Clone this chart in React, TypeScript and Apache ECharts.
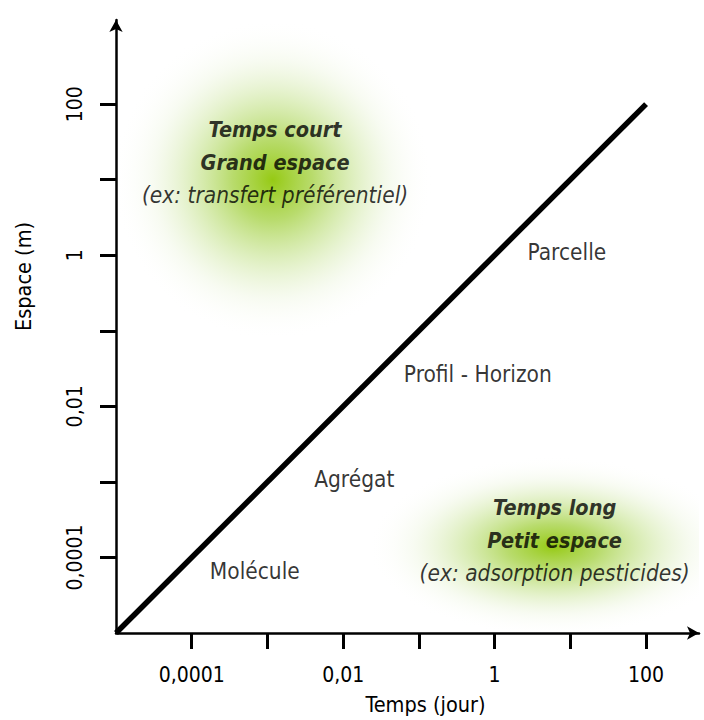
import React, { useEffect, useRef } from "react";
import * as echarts from "echarts";

// Axis ticks (real values) and their labels
const xTickValues = [1e-4, 1e-3, 1e-2, 1e-1, 1, 10, 100];
const xLabelValues = [1e-4, 1e-2, 1, 100];
const xLabelTexts = ["0,0001", "0,01", "1", "100"];
const yTickValues = [1e-4, 1e-3, 1e-2, 1e-1, 1, 10, 100];
const yLabelValues = [1e-4, 1e-2, 1, 100];
const yLabelTexts = ["0,0001", "0,01", "1", "100"];

// Axis extents (real values)
const xMin = 1e-5;
const xMax = 500;
const yMin = 1e-5;
const yMax = 1300;

// Diagonal scale line: Temps (jour) vs Espace (m)
const lineTime = [1e-5, 100];
const lineSpace = [1e-5, 100];

// Scale labels
const scaleNames = ["Molécule", "Agrégat", "Profil - Horizon", "Parcelle"];
const scaleTime = [0.00068, 0.014, 0.6, 9];
const scaleSpace = [0.000066, 0.0011, 0.027, 1.1];

// Green zones (centre of the glow) and their captions
const zoneTitles = [
  ["Temps court", "Grand espace", "(ex: transfert préférentiel)"],
  ["Temps long", "Petit espace", "(ex: adsorption pesticides)"],
];
const zoneTime = [0.00117, 5.9];
const zoneSpace = [10, 0.00014];
const captionTime = [0.00126, 6.2];
const captionSpace = [17, 0.00017];

const L = (v: number) => Math.log10(v);
const FONT = "'Liberation Sans Narrow', 'Arial Narrow', 'DejaVu Sans Condensed', 'Liberation Sans', sans-serif";

function fmt(v: number, vals: number[], texts: string[]) {
  for (let i = 0; i < vals.length; i++) {
    if (Math.abs(L(vals[i]) - v) < 1e-6) return texts[i];
  }
  return "";
}

export default function App() {
  const ref = useRef<HTMLDivElement>(null);
  useEffect(() => {
    if (!ref.current) return;
    const chart = echarts.init(ref.current, null, { renderer: "svg" });
    const zoneSizes = [
      [160, 160],
      [185, 90],
    ];
    const gradient = {
      type: "radial",
      x: 0.5,
      y: 0.5,
      r: 0.5,
      colorStops: [
        { offset: 0, color: "rgba(150,202,20,1)" },
        { offset: 0.25, color: "rgba(162,208,62,0.76)" },
        { offset: 0.5, color: "rgba(180,218,108,0.44)" },
        { offset: 0.75, color: "rgba(208,230,170,0.16)" },
        { offset: 1, color: "rgba(255,255,255,0)" },
      ],
    };
    const option: any = {
      animation: false,
      backgroundColor: "#fff",
      textStyle: { fontFamily: FONT },
      grid: { left: 116, right: 5, top: 20, bottom: 86, containLabel: false },
      xAxis: {
        type: "value",
        min: L(xMin),
        max: L(xMax),
        interval: 1,
        splitLine: { show: false },
        name: "Temps (jour)",
        nameLocation: "middle",
        nameGap: 60,
        nameTextStyle: { fontSize: 21.5, color: "#000", fontFamily: FONT, padding: [0, 0, 0, 36] },
        axisLine: {
          onZero: false,
          lineStyle: { color: "#000", width: 2.5 },
          symbol: ["none", "arrow"],
          symbolSize: [10, 12],
        },
        axisTick: {
          show: true,
          length: 16,
          inside: false,
          lineStyle: { color: "#000", width: 3 },
          customValues: xTickValues.map(L),
        },
        axisLabel: {
          customValues: xLabelValues.map(L),
          formatter: (v: number) => fmt(v, xLabelValues, xLabelTexts),
          fontSize: 21,
          color: "#000",
          fontFamily: FONT,
          margin: 31,
        },
      },
      yAxis: {
        type: "value",
        min: L(yMin),
        max: L(yMax),
        interval: 1,
        splitLine: { show: false },
        name: "Espace (m)",
        nameLocation: "middle",
        nameGap: 82,
        nameTextStyle: { fontSize: 21.5, color: "#000", fontFamily: FONT, padding: [0, 0, 0, 100] },
        axisLine: {
          onZero: false,
          lineStyle: { color: "#000", width: 2.5 },
          symbol: ["none", "arrow"],
          symbolSize: [10, 12],
        },
        axisTick: {
          show: true,
          length: 16,
          inside: false,
          lineStyle: { color: "#000", width: 3 },
          customValues: yTickValues.map(L),
        },
        axisLabel: {
          customValues: yLabelValues.map(L),
          formatter: (v: number) => fmt(v, yLabelValues, yLabelTexts),
          fontSize: 21,
          color: "#000",
          fontFamily: FONT,
          rotate: 90,
          margin: 31,
        },
      },
      series: [
        {
          type: "custom",
          name: "zones",
          silent: true,
          clip: true,
          z: 1,
          data: zoneTime.map((t, i) => [L(t), L(zoneSpace[i]), i]),
          renderItem: (params: any, api: any) => {
            const p = api.coord([api.value(0), api.value(1)]);
            const idx = api.value(2);
            const [rx, ry] = zoneSizes[idx];
            return {
              type: "circle",
              x: p[0],
              y: p[1],
              scaleX: rx / ry,
              scaleY: 1,
              shape: { cx: 0, cy: 0, r: ry },
              style: { fill: gradient },
            };
          },
        },
        {
          type: "line",
          name: "échelle",
          data: lineTime.map((t, i) => [L(t), L(lineSpace[i])]),
          showSymbol: false,
          symbol: "none",
          lineStyle: { color: "#000", width: 5.5, cap: "butt" },
          z: 3,
        },
        {
          type: "scatter",
          name: "échelles",
          symbolSize: 1,
          itemStyle: { color: "rgba(0,0,0,0)" },
          z: 4,
          data: scaleNames.map((n, i) => ({ name: n, value: [L(scaleTime[i]), L(scaleSpace[i])] })),
          label: {
            show: true,
            position: "inside",
            formatter: "{b}",
            fontSize: 22.5,
            color: "#000",
            fontFamily: FONT,
          },
        },
        {
          type: "scatter",
          name: "zones-texte",
          symbolSize: 1,
          itemStyle: { color: "rgba(0,0,0,0)" },
          z: 5,
          data: zoneTitles.map((lines, i) => ({
            name: lines.join("\n"),
            value: [L(captionTime[i]), L(captionSpace[i])],
            label: {
              formatter: () => `{b|${lines[0]}}\n{b|${lines[1]}}\n{i|${lines[2]}}`,
            },
          })),
          label: {
            show: true,
            position: "inside",
            align: "center",
            verticalAlign: "middle",
            lineHeight: 33,
            rich: {
              b: { fontSize: 21.5, fontWeight: "bold", fontStyle: "italic", color: "#000", fontFamily: FONT, lineHeight: 33 },
              i: { fontSize: 22.5, fontStyle: "italic", color: "#000", fontFamily: FONT, lineHeight: 33 },
            },
          },
        },
      ],
    };
    chart.setOption(option);
    return () => chart.dispose();
  }, []);
  return <div ref={ref} style={{ position: "absolute", left: 0, top: 0, width: 704, height: 720 }} />;
}
